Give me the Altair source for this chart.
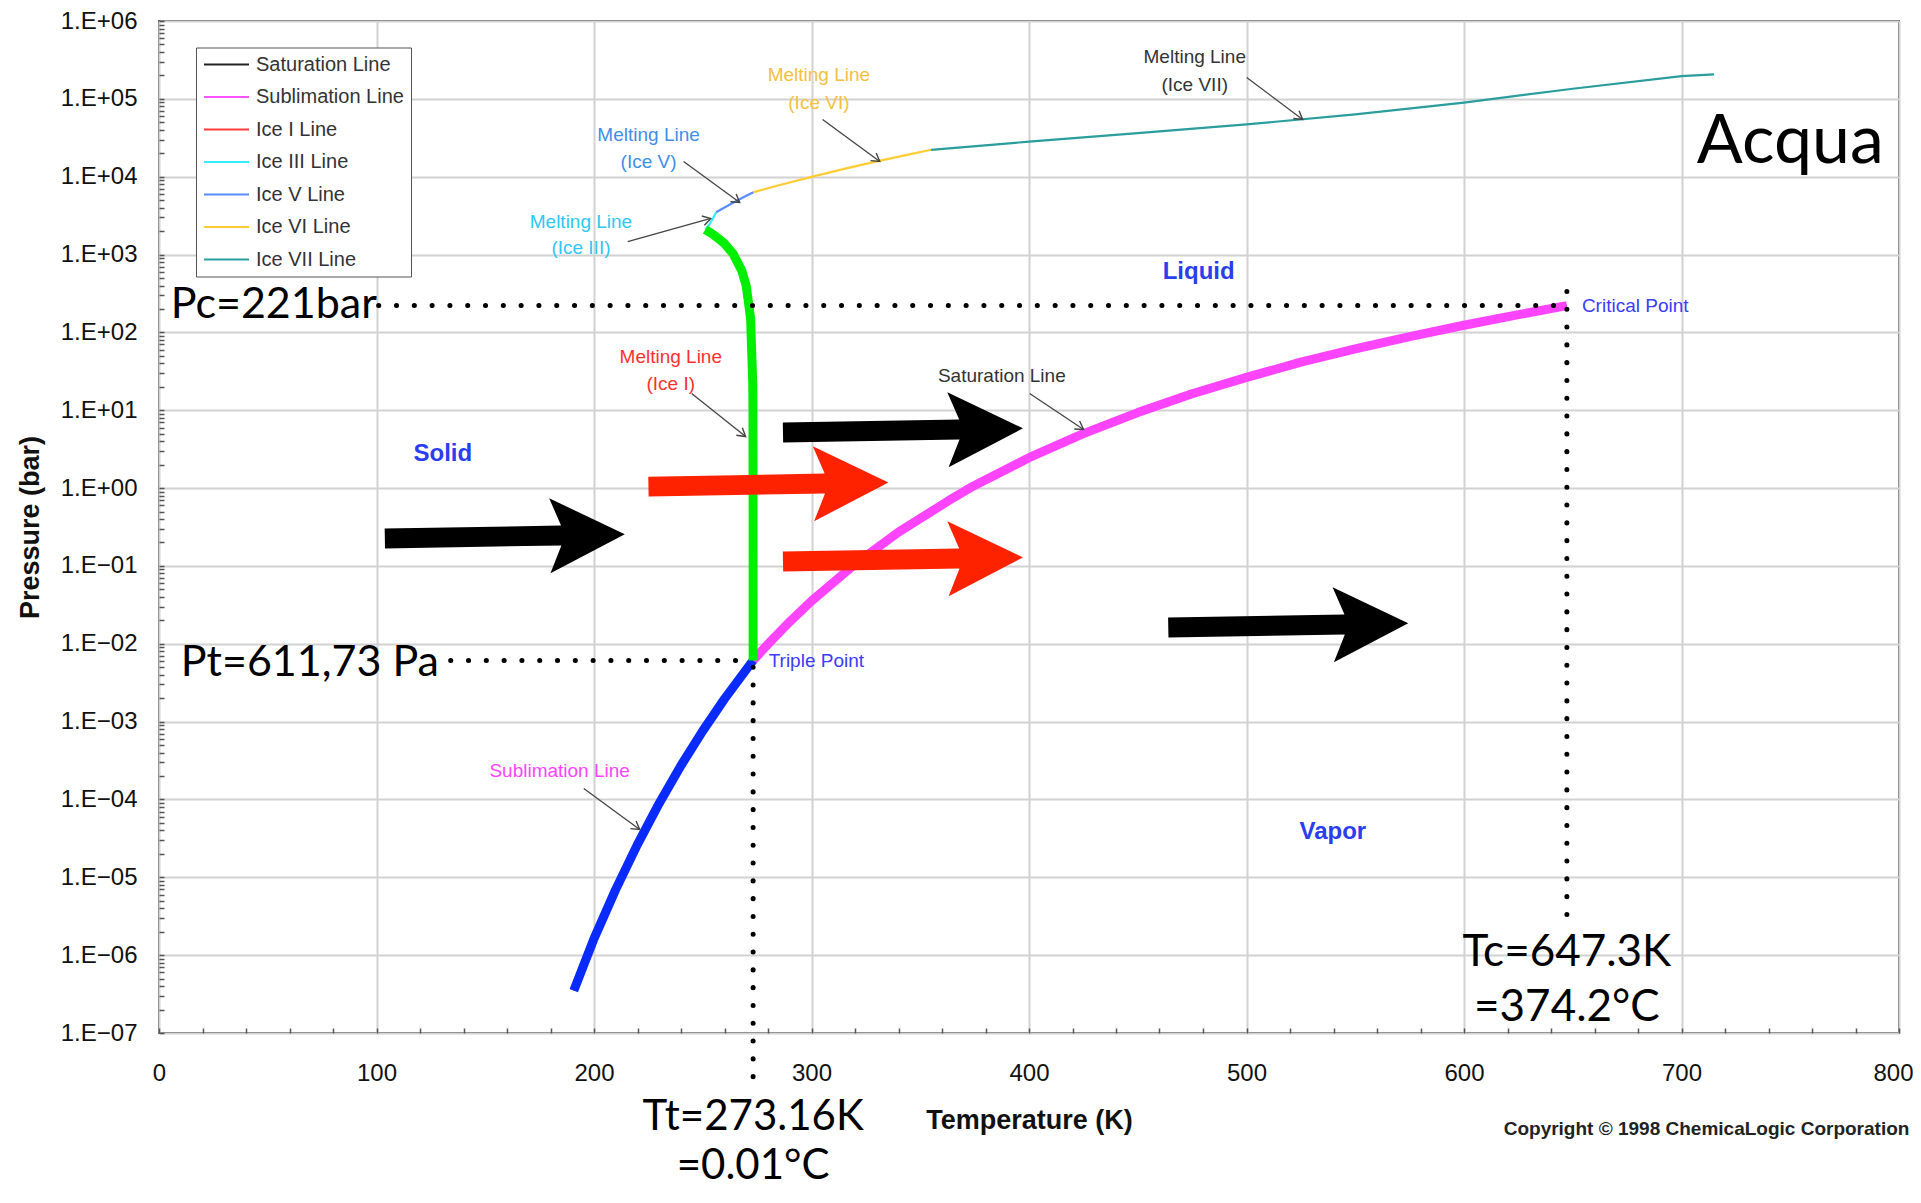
import math
import altair as alt
import pandas as pd

# ---------------- layout / axes ----------------
W, H = 1740, 1012
X_DOMAIN = [0, 800]
Y_DOMAIN = [1e-7, 1e6]
N_DECADES = 13
x_tick_values = list(range(0, 801, 20))
y_tick_values = [m * 10.0 ** k for k in range(-7, 6) for m in range(1, 10)] + [1e6]

# ---------------- legend ----------------
legend_names = ["Saturation Line", "Sublimation Line", "Ice I Line", "Ice III Line",
                "Ice V Line", "Ice VI Line", "Ice VII Line"]
legend_colors = ["#222222", "#ff55ff", "#ff3b3b", "#33eeff", "#5b8cff", "#ffcc33", "#2a9d9d"]

# ---------------- phase boundary series (T in K, P in bar) ----------------
sat_T = [273.16, 280, 290, 300, 320, 340, 363, 373.15, 400, 425, 450, 475, 500, 525, 550, 575, 600, 625, 647.3]
sat_P = [0.00612, 0.0099, 0.0192, 0.0354, 0.1055, 0.2719, 0.688, 1.014, 2.456, 5.0, 9.32, 16.3, 26.39, 41.5, 61.2, 88.0, 123.5, 169.0, 221.0]

sub_T = [190.7, 200, 210, 220, 230, 240, 250, 260, 273.16]
sub_P = [3.5e-7, 1.63e-6, 7.0e-6, 2.65e-5, 8.97e-5, 2.73e-4, 7.6e-4, 1.96e-3, 6.11e-3]

ice1_T = [273.16, 273.15, 273.08, 273.0, 272.0, 270.0, 268.0, 264.0, 260.0, 255.0, 251.165]
ice1_P = [0.00611, 1.0, 10.0, 21.5, 151.5, 393.0, 616.0, 1020.0, 1383.0, 1794.0, 2086.0]

ice3_T = [251.165, 253.0, 254.5, 256.164]
ice3_P = [2086.0, 2428.0, 2840.0, 3501.0]

ice5_T = [256.164, 260.0, 265.0, 270.0, 273.31]
ice5_P = [3501.0, 4026.0, 4796.0, 5676.0, 6324.0]

ice6_T = [273.31, 285.0, 300.0, 315.0, 330.0, 345.0, 355.0]
ice6_P = [6324.0, 7768.0, 9961.0, 12587.0, 15701.0, 19372.0, 22160.0]

ice7_T = [355.0, 400.0, 450.0, 500.0, 550.0, 600.0, 650.0, 700.0, 715.0]
ice7_P = [22160.0, 28170.0, 36190.0, 46950.0, 63080.0, 89640.0, 134860.0, 195540.0, 206150.0]

thick_names = ["Saturation Line", "Sublimation Line", "Ice I Line"]
thick_colors = ["#ff44ff", "#0a2bff", "#00ee00"]

# ---------------- dotted guide lines ----------------
dot_T1 = [101.0, 134.1, 647.3, 273.16]
dot_T2 = [647.3, 273.16, 647.3, 273.16]
dot_P1 = [221.0, 0.00611, 336.0, 0.0050]
dot_P2 = [221.0, 0.00611, 3.15e-6, 2.06e-8]

# ---------------- big block arrows ----------------
arrow_tail_T = [103.8, 224.8, 287.3, 287.3, 464.0]
arrow_tip_T = [214.2, 335.6, 396.8, 396.8, 574.4]
arrow_P = [0.239, 1.11, 5.5, 0.121, 0.0172]
arrow_color = ["#000000", "#ff2200", "#000000", "#ff2200", "#000000"]
ARROW_PATH = "M-1,-0.083L0.47,-0.083L0.375,-0.3125L1,0L0.375,0.3125L0.47,0.083L-1,0.083Z"

# ---------------- annotation pointers ----------------
ptr_T1 = [500.1, 305.1, 241.2, 215.5, 244.9, 400.3, 195.3]
ptr_P1 = [187900, 54330, 15670, 1469, 16.4, 16.4, 1.38e-4]
ptr_T2 = [525.8, 331.4, 267.0, 253.7, 269.7, 425.1, 221.0]
ptr_P2 = [54330, 15670, 4656, 2904, 4.59, 5.66, 4.11e-5]

# ---------------- text annotations ----------------
small_text = ["Melting Line", "(Ice VII)", "Melting Line", "(Ice VI)", "Melting Line", "(Ice V)",
              "Melting Line", "(Ice III)", "Melting Line", "(Ice I)", "Saturation Line", "Sublimation Line"]
small_T = [476.2, 476.2, 303.4, 303.4, 225.1, 225.1, 194.0, 194.0, 235.3, 235.3, 387.5, 184.2]
small_P = [349900, 152800, 199500, 89700, 34830, 15670, 2582, 1197, 49.0, 22.0, 27.9, 2.29e-4]
small_color = ["#333333", "#333333", "#f5c040", "#f5c040", "#3f8ee8", "#3f8ee8",
               "#2fc7f5", "#2fc7f5", "#ff3030", "#ff3030", "#333333", "#ff44ff"]

point_text = ["Critical Point", "Triple Point"]
point_T = [654.2, 280.3]
point_P = [221.0, 5.93e-3]

region_text = ["Solid", "Liquid", "Vapor"]
region_T = [130.5, 478.0, 539.7]
region_P = [2.78, 605.0, 3.87e-5]

big_left_text = ["Pc=221bar", "Pt=611,73 Pa"]
big_left_T = [5.4, 10.0]
big_left_P = [150.8, 3.91e-3]

tt_text = ["Tt=273.16K", "=0.01°C"]
tt_T = [273.16, 273.16]
tt_P = [5.75e-9, 1.35e-9]

tc_text = ["Tc=647.3K", "=374.2°C"]
tc_T = [647.3, 647.3]
tc_P = [7.36e-7, 1.44e-7]

title_text = ["Acqua"]
title_T = [750.0]
title_P = [15200.0]

# ---------------- build tables ----------------
series = {
    "Saturation Line": (sat_T, sat_P),
    "Sublimation Line": (sub_T, sub_P),
    "Ice I Line": (ice1_T, ice1_P),
    "Ice III Line": (ice3_T, ice3_P),
    "Ice V Line": (ice5_T, ice5_P),
    "Ice VI Line": (ice6_T, ice6_P),
    "Ice VII Line": (ice7_T, ice7_P),
}
rows = []
for name, (ts, ps) in series.items():
    for i, (t, p) in enumerate(zip(ts, ps)):
        rows.append({"series": name, "T": t, "P": p, "idx": i})
curves = pd.DataFrame(rows)
thick_map = dict(zip(thick_names, thick_colors))
thick_df = curves[curves["series"].isin(thick_names)].copy()
thick_df["thick"] = thick_df["series"].map(thick_map)

dots_df = pd.DataFrame({"T": dot_T1, "T2": dot_T2, "P": dot_P1, "P2": dot_P2})
arrows_df = pd.DataFrame({"tail": arrow_tail_T, "tip": arrow_tip_T, "P": arrow_P, "col": arrow_color})


def screen_angle(t1, p1, t2, p2):
    dx = (t2 - t1) / (X_DOMAIN[1] - X_DOMAIN[0]) * W
    dy = -(math.log10(p2) - math.log10(p1)) / N_DECADES * H
    return math.degrees(math.atan2(dy, dx)) % 360


ptr_df = pd.DataFrame({"T": ptr_T1, "P": ptr_P1, "T2": ptr_T2, "P2": ptr_P2})
ptr_df["ang"] = [screen_angle(a, b, c, d) for a, b, c, d in zip(ptr_T1, ptr_P1, ptr_T2, ptr_P2)]

AX_FONT = "Liberation Sans"
BIG_FONT = "Lato"

major_test = "abs(log(datum.value)/LN10 - round(log(datum.value)/LN10)) < 0.001"
x_axis = alt.Axis(
    values=x_tick_values,
    labelExpr="datum.value % 100 == 0 ? datum.label : ''",
    grid=True, gridColor="#d2d2d2", gridWidth=2,
    gridOpacity={"condition": {"test": "datum.value % 100 == 0", "value": 1}, "value": 0},
    domain=False, ticks=True, tickSize=5, tickColor="#555555", tickWidth=1.5, offset=-5,
    labelFont=AX_FONT, labelFontSize=24, labelColor="#111111", labelPadding=28,
    labelOffset={"condition": {"test": "datum.value == 800", "value": -6}, "value": 0},
    labelFlush=False, labelOverlap=False, labelBound=False,
    title="Temperature (K)", titleFont=AX_FONT, titleFontSize=27, titleFontWeight="bold",
    titleColor="#111111", titleX=870, titleY=92, titleAlign="center", titleBaseline="middle",
)
y_axis = alt.Axis(
    values=y_tick_values,
    labelExpr=major_test + " ? '1.E' + format(round(log(datum.value)/LN10), '+03d') : ''",
    grid=True, gridColor="#d2d2d2", gridWidth=2,
    gridOpacity={"condition": {"test": major_test, "value": 1}, "value": 0},
    domain=False, ticks=True, tickSize=5, tickColor="#555555", tickWidth=1.5, offset=-5,
    labelFont=AX_FONT, labelFontSize=24, labelColor="#111111", labelPadding=22,
    labelFlush=False, labelOverlap=False, labelBound=False,
    title="Pressure (bar)", titleFont=AX_FONT, titleFontSize=27, titleFontWeight="bold",
    titleColor="#111111", titleX=-134, titleY=506, titleAngle=270, titleAlign="center",
    titleBaseline="middle",
)

X = alt.X("T:Q", scale=alt.Scale(domain=X_DOMAIN, nice=False, zero=False), axis=x_axis)
Y = alt.Y("P:Q", scale=alt.Scale(type="log", domain=Y_DOMAIN, nice=False), axis=y_axis)
Xp = alt.X("T:Q")
Yp = alt.Y("P:Q")

thin = alt.Chart(curves).mark_line(strokeWidth=2.2, strokeJoin="round").encode(
    x=X, y=Y,
    color=alt.Color("series:N", sort=legend_names,
                    scale=alt.Scale(domain=legend_names, range=legend_colors),
                    legend=alt.Legend(orient="none", legendX=37, legendY=26.5, title=None,
                                      symbolType="stroke", symbolSize=2025, symbolStrokeWidth=2,
                                      clipHeight=20, rowPadding=12.5, labelFont=AX_FONT,
                                      labelFontSize=20, labelColor="#333333", labelOffset=6,
                                      labelLimit=300, padding=7, strokeColor="#555555",
                                      fillColor="#ffffff")),
    order=alt.Order("idx:Q"),
)

thick = alt.Chart(thick_df).mark_line(strokeWidth=9, strokeJoin="round").encode(
    x=Xp, y=Yp, stroke=alt.Stroke("thick:N", scale=None), detail="series:N",
    order=alt.Order("idx:Q"),
)

dots = alt.Chart(dots_df).mark_rule(strokeDash=[0.1, 17.7], strokeCap="round", strokeWidth=5,
                                    color="#000000").encode(
    x=Xp, x2="T2:Q", y=Yp, y2="P2:Q")

block_arrows = alt.Chart(arrows_df).transform_calculate(
    T="(datum.tail + datum.tip) / 2"
).mark_point(shape=ARROW_PATH, size=57600, filled=True, opacity=1, strokeWidth=0, angle=359).encode(
    x=Xp, y=Yp, fill=alt.Fill("col:N", scale=None))

ptr_lines = alt.Chart(ptr_df).mark_rule(color="#444444", strokeWidth=1.3).encode(
    x=Xp, x2="T2:Q", y=Yp, y2="P2:Q")
ptr_heads = alt.Chart(ptr_df).mark_point(shape="M-1,-0.6L0,0L-1,0.6", size=256, filled=False,
                                         strokeWidth=1.4, color="#444444", opacity=1).encode(
    x=alt.X("T2:Q"), y=alt.Y("P2:Q"), angle=alt.Angle("ang:Q", scale=None))


def text_layer(texts, ts, ps, colors, font, size, weight="normal", align="center", baseline="middle"):
    df = pd.DataFrame({"text": texts, "T": ts, "P": ps, "col": colors})
    return alt.Chart(df).mark_text(font=font, fontSize=size, fontWeight=weight, align=align,
                                   baseline=baseline).encode(
        x=Xp, y=Yp, text="text:N", fill=alt.Fill("col:N", scale=None))


small_layer = text_layer(small_text, small_T, small_P, small_color, AX_FONT, 19)
point_layer = text_layer(point_text, point_T, point_P, ["#3c3cff"] * 2, AX_FONT, 19, align="left")
region_layer = text_layer(region_text, region_T, region_P, ["#2a3df0"] * 3, AX_FONT, 24, weight="bold")
big_left_layer = text_layer(big_left_text, big_left_T, big_left_P, ["#000000"] * 2, BIG_FONT, 43,
                            align="left", baseline="alphabetic")
tt_layer = text_layer(tt_text, tt_T, tt_P, ["#000000"] * 2, BIG_FONT, 42, baseline="alphabetic")
tc_layer = text_layer(tc_text, tc_T, tc_P, ["#000000"] * 2, BIG_FONT, 44, baseline="alphabetic")
title_layer = text_layer(title_text, title_T, title_P, ["#000000"], BIG_FONT, 68, baseline="alphabetic")

copyright_layer = alt.Chart(pd.DataFrame({"text": ["Copyright © 1998 ChemicaLogic Corporation"]})).mark_text(
    font=AX_FONT, fontSize=19, fontWeight="bold", align="left", baseline="middle", color="#222222"
).encode(x=alt.value(1344.7), y=alt.value(1107.5), text="text:N")

chart = alt.layer(
    thin, thick, dots, block_arrows, ptr_lines, ptr_heads,
    small_layer, point_layer, region_layer, big_left_layer, tt_layer, tc_layer, title_layer,
    copyright_layer,
).properties(
    width=W, height=H,
    padding={"left": 151, "top": 13, "right": 14, "bottom": 156},
    autosize=alt.AutoSizeParams(type="none"),
).configure_view(stroke="#555555", strokeWidth=2)

chart.save("out.html", embed_options={"renderer": "svg", "actions": False})
